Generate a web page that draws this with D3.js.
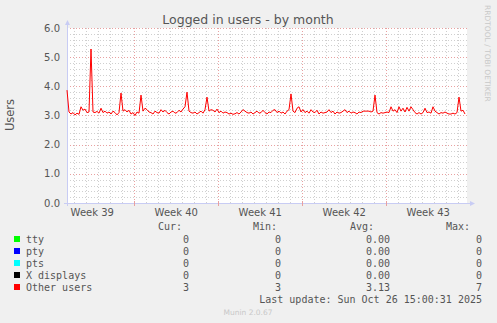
<!DOCTYPE html>
<html>
<head>
<meta charset="utf-8">
<script src="https://cdn.jsdelivr.net/npm/d3@7"></script>
<style>
  body { margin: 0; background: #f0f0f0; }
  svg { display: block; }
  text { font-family: "DejaVu Sans", sans-serif; fill: #555; }
  .mono { font-family: "DejaVu Sans Mono", monospace; font-size: 10px; }
</style>
</head>
<body>
<svg id="chart" width="497" height="323"></svg>
<script>
// one sample every 4 hours
const startTime = Date.UTC(2025, 8, 23, 9, 30);
const stepHours = 4;
const otherUsers = [
  3.87, 3.12, 3.05, 3.10, 3.02, 3.08, 3.04, 3.30, 3.18, 3.22,
  3.10, 3.12, 5.28, 3.12, 3.10, 3.14, 3.08, 3.25, 3.10, 3.15,
  3.08, 3.12, 3.05, 3.15, 3.10, 3.02, 3.10, 3.77, 3.15, 3.20,
  3.12, 3.18, 3.05, 3.10, 3.00, 3.12, 3.08, 3.70, 3.15, 3.25,
  3.20, 3.12, 3.10, 3.05, 3.15, 3.10, 3.08, 3.20, 3.12, 3.18,
  3.10, 3.05, 3.12, 3.15, 3.08, 3.10, 3.18, 3.12, 3.22, 3.30,
  3.80, 3.15, 3.10, 3.08, 3.12, 3.05, 3.10, 3.15, 3.08, 3.20,
  3.63, 3.15, 3.20, 3.18, 3.12, 3.22, 3.10, 3.15, 3.08, 3.12,
  3.10, 3.05, 3.08, 3.04, 3.06, 3.10, 3.05, 3.12, 3.20, 3.15,
  3.10, 3.08, 3.12, 3.05, 3.10, 3.15, 3.08, 3.10, 3.18, 3.10,
  3.05, 3.12, 3.10, 3.18, 3.20, 3.10, 3.15, 3.08, 3.12, 3.05,
  3.15, 3.20, 3.74, 3.15, 3.10, 3.25, 3.30, 3.12, 3.20, 3.10,
  3.15, 3.08, 3.20, 3.12, 3.10, 3.18, 3.05, 3.12, 3.08, 3.10,
  3.12, 3.20, 3.10, 3.15, 3.05, 3.12, 3.08, 3.10, 3.15, 3.20,
  3.10, 3.15, 3.08, 3.12, 3.10, 3.05, 3.12, 3.10, 3.15, 3.15,
  3.15, 3.15, 3.12, 3.15, 3.70, 3.10, 3.05, 3.10, 3.08, 3.10,
  3.12, 3.10, 3.30, 3.15, 3.20, 3.10, 3.30, 3.15, 3.25, 3.12,
  3.28, 3.15, 3.30, 3.20, 3.10, 3.05, 3.10, 3.05, 3.10, 3.25,
  3.10, 3.12, 3.08, 3.30, 3.15, 3.10, 3.05, 3.10, 3.08, 3.12,
  3.08, 3.05, 3.05, 3.08, 3.05, 3.10, 3.63, 3.15, 3.18, 3.05
];
const weekLabels = ["Week 39", "Week 40", "Week 41", "Week 42", "Week 43"];
const weekStarts = [
  Date.UTC(2025, 8, 22), Date.UTC(2025, 8, 29), Date.UTC(2025, 9, 6),
  Date.UTC(2025, 9, 13), Date.UTC(2025, 9, 20), Date.UTC(2025, 9, 27)
];
const yTicks = [0, 1, 2, 3, 4, 5, 6];

const legendNames = ["tty", "pty", "pts", "X displays", "Other users"];
const legendColors = ["#00ff00", "#0000ff", "#00ffff", "#000000", "#ff0000"];
const legendCur = ["0", "0", "0", "0", "3"];
const legendMin = ["0", "0", "0", "0", "3"];
const legendAvg = ["0.00", "0.00", "0.00", "0.00", "3.13"];
const legendMax = ["0", "0", "0", "0", "7"];

const svg = d3.select("#chart");
const plotLeft = 67, plotRight = 467, plotTop = 28, plotBottom = 203;

const endTime = startTime + 400 * 7200 * 1000;
const x = d3.scaleUtc().domain([startTime, endTime]).range([plotLeft, plotRight]);
const y = d3.scaleLinear().domain([0, 6]).range([plotBottom, plotTop]);

svg.append("rect").attr("x", plotLeft).attr("y", plotTop)
    .attr("width", plotRight - plotLeft).attr("height", plotBottom - plotTop).attr("fill", "#fff");

// grid
const grid = svg.append("g").attr("shape-rendering", "crispEdges");
for (let v = 0.2; v < 6.01; v += 0.2) {
    const major = Math.abs(v - Math.round(v)) < 0.01;
    grid.append("line")
        .attr("x1", plotLeft).attr("x2", plotRight + 1)
        .attr("y1", Math.round(y(v)) + 0.5).attr("y2", Math.round(y(v)) + 0.5)
        .attr("stroke", major ? "#e8a0a0" : "#cfcfcf")
        .attr("stroke-dasharray", "1,2");
}
const days = d3.utcDay.range(new Date(startTime), new Date(endTime));
days.forEach(d => {
    const major = d.getUTCDay() === 1;
    const px = Math.round(x(d)) + 0.5;
    grid.append("line")
        .attr("x1", px).attr("x2", px).attr("y1", plotTop).attr("y2", plotBottom)
        .attr("stroke", major ? "#e8a0a0" : "#cfcfcf")
        .attr("stroke-dasharray", "1,2");
});

// axes
svg.append("line").attr("x1", plotLeft + 0.5).attr("x2", plotLeft + 0.5)
    .attr("y1", plotBottom + 3).attr("y2", plotTop - 4).attr("stroke", "#c8ccf4");
svg.append("line").attr("x1", plotLeft - 3).attr("x2", plotRight + 3)
    .attr("y1", plotBottom + 0.5).attr("y2", plotBottom + 0.5).attr("stroke", "#c8ccf4");
svg.append("path").attr("d", `M${plotLeft - 2},${plotTop - 3} L${plotLeft + 3},${plotTop - 3} L${plotLeft + 0.5},${plotTop - 8} Z`)
    .attr("fill", "#c8ccf4");
svg.append("path").attr("d", `M${plotRight + 3},${plotBottom - 2} L${plotRight + 3},${plotBottom + 3} L${plotRight + 8},${plotBottom + 0.5} Z`)
    .attr("fill", "#c8ccf4");

// week tick marks on the axis
weekStarts.forEach(w => {
    const px = Math.round(x(w)) + 0.5;
    if (px < plotLeft || px > plotRight) return;
    svg.append("line").attr("x1", px).attr("x2", px)
        .attr("y1", plotBottom - 2).attr("y2", plotBottom + 3).attr("stroke", "#e8a0a0");
});

// y tick labels
svg.selectAll(".ylab").data(yTicks).enter().append("text")
    .attr("x", 60).attr("y", d => y(d) + 3.5)
    .attr("text-anchor", "end").attr("font-size", "10px")
    .text(d => d.toFixed(1));

// x labels (centered in each week)
svg.selectAll(".xlab").data(weekLabels).enter().append("text")
    .attr("x", (d, i) => (x(weekStarts[i]) + x(weekStarts[i + 1])) / 2)
    .attr("y", 216).attr("text-anchor", "middle").attr("font-size", "10px")
    .text(d => d);

// data line
const line = d3.line()
    .x((d, i) => x(startTime + i * stepHours * 3600 * 1000))
    .y(d => y(d));
svg.append("path").datum(otherUsers)
    .attr("d", line).attr("fill", "none")
    .attr("stroke", "#ff0000").attr("stroke-width", 1);

// titles
svg.append("text").attr("x", 248).attr("y", 24).attr("text-anchor", "middle")
    .attr("font-size", "12.5px").text("Logged in users - by month");
svg.append("text").attr("transform", "translate(14,115) rotate(-90)")
    .attr("text-anchor", "middle").attr("font-size", "11.5px").text("Users");
svg.append("text").attr("transform", "translate(485,5) rotate(90)")
    .attr("font-size", "7.5px").style("fill", "#c8c8c8").text("RRDTOOL / TOBI OETIKER");

// legend
const lg = svg.append("g");
const head = [["Cur:", 182], ["Min:", 277], ["Avg:", 374], ["Max:", 470]];
head.forEach(h => {
    lg.append("text").attr("class", "mono").attr("x", h[1]).attr("y", 230)
        .attr("text-anchor", "end").text(h[0]);
});
legendNames.forEach((name, i) => {
    const yy = 243 + i * 12;
    lg.append("rect").attr("x", 14).attr("y", yy - 7).attr("width", 6).attr("height", 6)
        .attr("fill", legendColors[i]);
    lg.append("text").attr("class", "mono").attr("x", 26).attr("y", yy).text(name);
    lg.append("text").attr("class", "mono").attr("x", 189).attr("y", yy)
        .attr("text-anchor", "end").text(legendCur[i]);
    lg.append("text").attr("class", "mono").attr("x", 281).attr("y", yy)
        .attr("text-anchor", "end").text(legendMin[i]);
    lg.append("text").attr("class", "mono").attr("x", 390).attr("y", yy)
        .attr("text-anchor", "end").text(legendAvg[i]);
    lg.append("text").attr("class", "mono").attr("x", 482).attr("y", yy)
        .attr("text-anchor", "end").text(legendMax[i]);
});
lg.append("text").attr("class", "mono").attr("x", 482).attr("y", 303)
    .attr("text-anchor", "end").text("Last update: Sun Oct 26 15:00:31 2025");

svg.append("text").attr("x", 248).attr("y", 315).attr("text-anchor", "middle")
    .attr("font-size", "7.5px").style("fill", "#c8c8c8").text("Munin 2.0.67");
</script>
</body>
</html>
